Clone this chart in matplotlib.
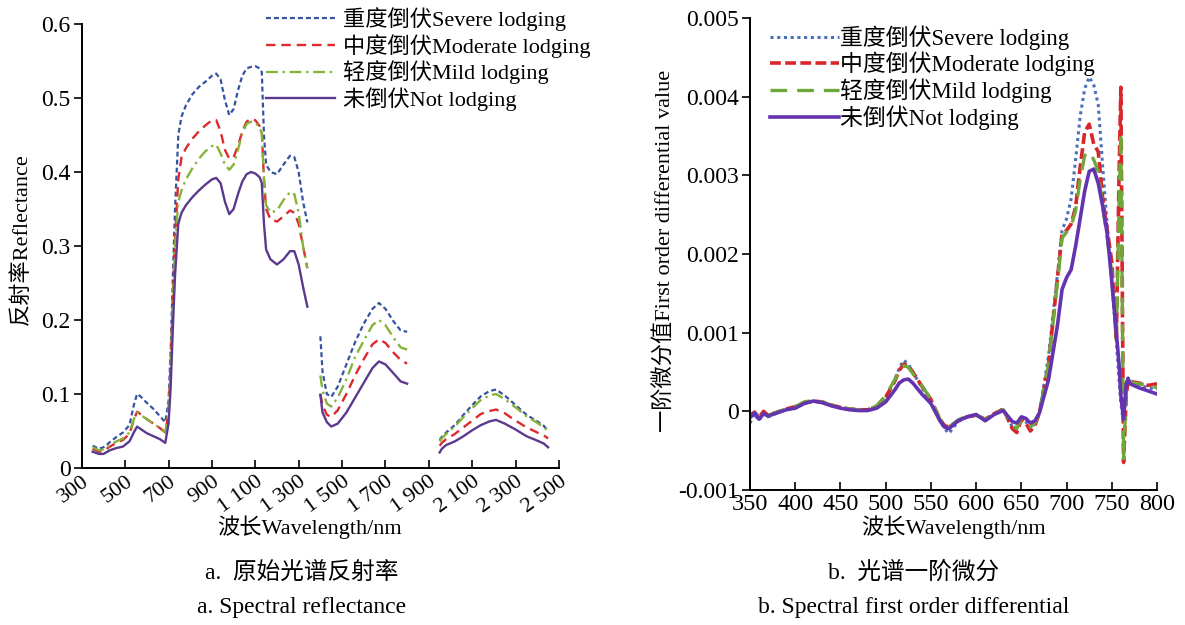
import numpy as np
import matplotlib
matplotlib.use("Agg")
import matplotlib.pyplot as plt

plt.rcParams['font.family'] = ['Liberation Serif', 'Noto Sans CJK SC']
plt.rcParams['axes.unicode_minus'] = False

nan = np.nan

# raw reflectance spectra (gaps = water absorption bands)
wl_raw = [350, 380, 400, 430, 460, 490, 520, 540, 555, 570, 600, 630, 660, 685, 700, 710,
          720, 730, 745, 760, 780, 810, 840, 870, 900, 920, 940, 960, 980, 1000, 1020, 1040,
          1060, 1080, 1100, 1120, 1130, 1140, 1150, 1170, 1200, 1230, 1260, 1280, 1300, 1320, 1340,
          1370,
          1400, 1410, 1430, 1450, 1480, 1520, 1560, 1600, 1640, 1670, 1700, 1740, 1770, 1800,
          1870,
          1950, 1960, 1980, 2020, 2060, 2100, 2140, 2180, 2210, 2250, 2300, 2350, 2400, 2430, 2450]

refl_severe = [.030, .026, .028, .035, .042, .048, .058, .085, .100, .097, .088, .080, .070, .062, .090, .160,
               .260, .350, .450, .475, .490, .505, .515, .522, .530, .533, .525, .497, .477, .485, .510, .530,
               .540, .542, .543, .540, .535, .450, .410, .400, .397, .410, .422, .420, .400, .360, .332,
               nan,
               .178, .130, .100, .096, .110, .140, .170, .195, .215, .223, .215, .197, .186, .184,
               nan,
               .038, .042, .048, .058, .072, .085, .097, .104, .106, .098, .085, .072, .063, .057, .050]

refl_moderate = [.026, .022, .023, .029, .034, .038, .046, .065, .076, .073, .066, .060, .054, .048, .075, .140,
                 .230, .310, .390, .420, .432, .445, .455, .463, .470, .470, .455, .430, .418, .420, .435, .455,
                 .468, .472, .470, .462, .455, .390, .350, .336, .333, .340, .348, .345, .330, .300, .270,
                 nan,
                 .100, .085, .072, .069, .078, .100, .125, .147, .167, .174, .169, .155, .146, .141,
                 nan,
                 .030, .034, .039, .046, .055, .064, .073, .077, .079, .074, .064, .055, .048, .044, .040]

refl_mild = [.028, .024, .025, .031, .036, .040, .048, .066, .075, .072, .066, .060, .054, .049, .075, .130,
             .220, .300, .360, .375, .390, .405, .418, .428, .435, .437, .425, .410, .403, .410, .430, .452,
             .465, .468, .467, .460, .452, .390, .355, .345, .348, .362, .373, .370, .345, .300, .270,
             nan,
             .125, .105, .087, .083, .095, .120, .150, .172, .193, .200, .193, .175, .163, .160,
             nan,
             .036, .040, .046, .056, .069, .081, .092, .098, .100, .093, .082, .070, .061, .055, .050]

refl_none = [.022, .019, .019, .024, .027, .029, .036, .048, .056, .053, .047, .043, .039, .034, .060, .110,
             .190, .260, .330, .345, .355, .366, .375, .383, .390, .392, .385, .360, .343, .350, .370, .387,
             .397, .400, .398, .393, .385, .330, .295, .282, .275, .282, .293, .293, .275, .245, .218,
             nan,
             .099, .075, .062, .056, .060, .075, .095, .115, .135, .144, .140, .127, .117, .114,
             nan,
             .021, .026, .031, .036, .043, .051, .058, .063, .065, .060, .052, .043, .037, .033, .028]

# first order derivative (x 1e-3)
wl_d1 = [350, 355, 360, 365, 370, 380, 390, 400, 410, 420, 430, 440, 450, 460, 470, 480, 490,
         500, 510, 515, 520, 525, 530, 540, 550, 560, 565, 570, 580, 590, 600, 610, 620, 630,
         640, 645, 650, 655, 660, 665, 670, 680, 690, 695, 700, 705, 710, 715, 720, 725, 730,
         735, 740, 745, 750, 755, 758, 760, 763, 766, 768, 770, 780, 790, 800]

d1_severe = [-0.15, -0.03, -0.12, -0.02, -0.07, -0.02, 0.02, 0.05, 0.10, 0.13, 0.11, 0.07, 0.05, 0.03, 0.02, 0.02, 0.06,
             0.18, 0.40, 0.55, 0.65, 0.60, 0.50, 0.30, 0.12, -0.12, -0.22, -0.28, -0.13, -0.07, -0.05, -0.11, -0.03, 0.03,
             -0.20, -0.24, -0.09, -0.13, -0.22, -0.16, -0.02, 0.70, 1.75, 2.30, 2.45, 2.70, 3.20, 3.75, 4.10, 4.25, 4.15,
             3.90, 3.10, 2.35, 1.65, 0.90, 0.40, 0.10, -0.15, 0.30, 0.42, 0.38, 0.33, 0.30, 0.28]

d1_moderate = [-0.05, -0.01, -0.08, 0.00, -0.05, -0.01, 0.03, 0.06, 0.11, 0.13, 0.12, 0.08, 0.05, 0.03, 0.02, 0.02, 0.06,
               0.18, 0.38, 0.52, 0.60, 0.58, 0.50, 0.32, 0.15, -0.10, -0.18, -0.20, -0.12, -0.07, -0.05, -0.10, -0.03, 0.03,
               -0.22, -0.27, -0.10, -0.15, -0.25, -0.18, -0.02, 0.60, 1.70, 2.25, 2.30, 2.38, 2.60, 3.10, 3.55, 3.65, 3.40,
               3.30, 2.70, 2.30, 1.90, 0.90, 3.00, 4.12, -0.65, 0.20, 0.40, 0.38, 0.36, 0.33, 0.35]

d1_mild = [-0.06, -0.02, -0.09, -0.01, -0.05, -0.01, 0.03, 0.06, 0.12, 0.14, 0.12, 0.08, 0.05, 0.03, 0.02, 0.02, 0.07,
           0.20, 0.40, 0.52, 0.58, 0.56, 0.48, 0.33, 0.15, -0.10, -0.17, -0.20, -0.11, -0.06, -0.05, -0.10, -0.03, 0.02,
           -0.18, -0.22, -0.09, -0.13, -0.20, -0.15, -0.02, 0.60, 1.65, 2.20, 2.28, 2.35, 2.55, 2.95, 3.25, 3.30, 3.20,
           3.05, 2.60, 2.20, 1.75, 0.90, 2.60, 3.55, -0.60, 0.25, 0.40, 0.37, 0.35, 0.33, 0.30]

d1_none = [-0.08, -0.02, -0.10, -0.03, -0.06, -0.02, 0.02, 0.04, 0.10, 0.13, 0.11, 0.07, 0.04, 0.02, 0.01, 0.01, 0.04,
           0.12, 0.27, 0.36, 0.40, 0.41, 0.36, 0.22, 0.10, -0.12, -0.20, -0.22, -0.12, -0.07, -0.04, -0.12, -0.04, 0.01,
           -0.13, -0.15, -0.07, -0.09, -0.15, -0.12, -0.02, 0.40, 1.10, 1.55, 1.70, 1.80, 2.10, 2.45, 2.80, 3.05, 3.08,
           2.90, 2.60, 2.25, 1.65, 1.00, 0.60, 0.20, -0.10, 0.35, 0.42, 0.35, 0.30, 0.26, 0.22]

labels = ['重度倒伏Severe lodging', '中度倒伏Moderate lodging', '轻度倒伏Mild lodging', '未倒伏Not lodging']

fig = plt.figure(figsize=(11.85, 6.25), dpi=100)

# ---- a. raw reflectance ----
ax1 = fig.add_axes([0.069, 0.2512, 0.4027, 0.7104])
ax1.plot(wl_raw, refl_severe, color='#3553a3', ls=(0, (2.2, 1.4)), lw=1.6, label=labels[0])
ax1.plot(wl_raw, refl_moderate, color='#dd2a2e', ls=(0, (4, 2.5)), lw=1.7, label=labels[1])
ax1.plot(wl_raw, refl_mild, color='#86b43a', ls=(0, (5, 2, 1, 2)), lw=1.7, label=labels[2])
ax1.plot(wl_raw, refl_none, color='#5b3a8e', ls='-', lw=1.7, label=labels[3])
ax1.set_xlim(300, 2500)
ax1.set_ylim(0, 0.6)
xt = list(range(300, 2501, 200))
ax1.set_xticks(xt)
ax1.set_xticklabels([f'{v // 1000} {v % 1000:03d}' if v >= 1000 else str(v) for v in xt],
                    rotation=36, ha='right', va='top', rotation_mode='anchor')
ax1.set_yticks([0, 0.1, 0.2, 0.3, 0.4, 0.5, 0.6])
ax1.set_yticklabels(['0', '0.1', '0.2', '0.3', '0.4', '0.5', '0.6'])
ax1.set_xlabel('波长Wavelength/nm', fontsize=16)
ax1.xaxis.set_label_coords(0.478, -0.106)
ax1.set_ylabel('反射率Reflectance', fontsize=16)
ax1.yaxis.set_label_coords(-0.104, 0.516)
ax1.legend(loc='upper left', bbox_to_anchor=(266 / 1185, 1 - 7 / 625), bbox_transform=fig.transFigure,
           frameon=False, fontsize=16, handlelength=3.1, handletextpad=0.35, labelspacing=0.13,
           borderaxespad=0, borderpad=0)

# ---- b. first order derivative ----
ax2 = fig.add_axes([0.6329, 0.216, 0.3435, 0.7552])
d1_scale = 1e-3
ax2.plot(wl_d1, np.array(d1_severe) * d1_scale, color='#4a70b8', ls=(0, (1, 1.2)), lw=2.2, label=labels[0])
ax2.plot(wl_d1, np.array(d1_moderate) * d1_scale, color='#d9262b', ls=(0, (3, 1.2)), lw=2.6, label=labels[1])
ax2.plot(wl_d1, np.array(d1_mild) * d1_scale, color='#6fa83a', ls=(0, (5, 3)), lw=2.4, label=labels[2])
ax2.plot(wl_d1, np.array(d1_none) * d1_scale, color='#6433b0', ls='-', lw=2.6, label=labels[3])
ax2.set_xlim(350, 800)
ax2.set_ylim(-0.001, 0.005)
ax2.set_xticks(list(range(350, 801, 50)))
ax2.set_yticks([-0.001, 0, 0.001, 0.002, 0.003, 0.004, 0.005])
ax2.set_yticklabels(['-0.001', '0', '0.001', '0.002', '0.003', '0.004', '0.005'])
ax2.set_xlabel('波长Wavelength/nm', fontsize=16, labelpad=0)
ax2.set_ylabel('一阶微分值First order differential value', fontsize=16)
ax2.yaxis.set_label_coords(-0.182, 0.506)
ax2.legend(loc='upper left', bbox_to_anchor=(770 / 1185, 1 - 25 / 625), bbox_transform=fig.transFigure,
           frameon=False, fontsize=16.5, handlelength=3.0, handletextpad=0.05, labelspacing=0.1,
           borderaxespad=0, borderpad=0)

for ax in (ax1, ax2):
    for side in ('top', 'right'):
        ax.spines[side].set_visible(False)
    for side in ('left', 'bottom'):
        ax.spines[side].set_linewidth(1.4)
    ax.tick_params(axis='x', direction='in', length=6, width=1.2, pad=3)
    ax.tick_params(axis='y', direction='out', length=6, width=1.2, labelsize=17, pad=2)
ax1.tick_params(axis='x', labelsize=16, pad=3)
ax2.tick_params(axis='x', labelsize=17.5)

# captions
fig.text(302 / 1185, 1 - 573 / 625, 'a.  原始光谱反射率', ha='center', va='center', fontsize=17)
fig.text(302 / 1185, 1 - 608 / 625, 'a. Spectral reflectance', ha='center', va='center', fontsize=17)
fig.text(914 / 1185, 1 - 573 / 625, 'b.  光谱一阶微分', ha='center', va='center', fontsize=17)
fig.text(914 / 1185, 1 - 608 / 625, 'b. Spectral first order differential', ha='center', va='center', fontsize=17)

fig.savefig('out.png', dpi=100)
